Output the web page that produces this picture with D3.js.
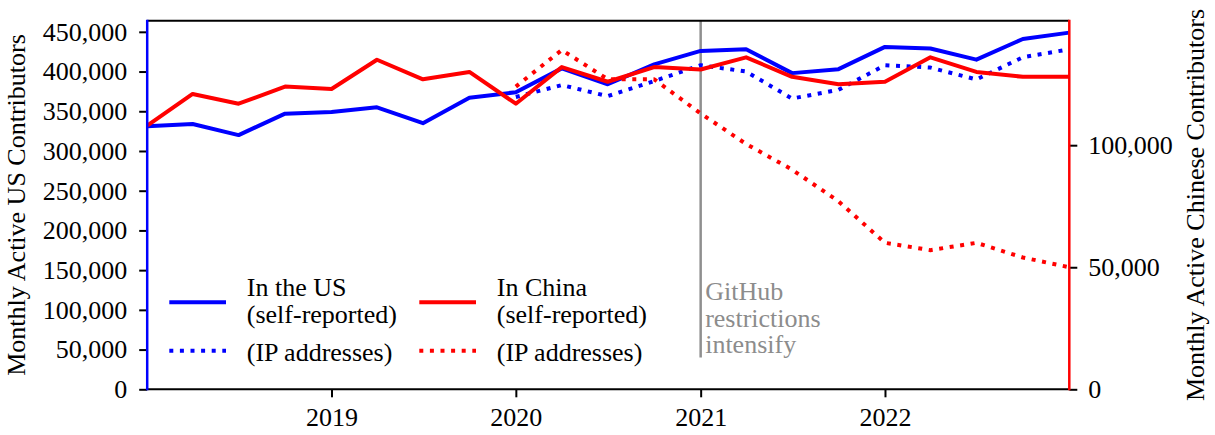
<!DOCTYPE html>
<html><head><meta charset="utf-8">
<script src="https://cdn.jsdelivr.net/npm/d3@7"></script>
<style>
body{margin:0;background:#fff}
svg{display:block}
svg text{font-family:'Liberation Serif','Times New Roman',Times,'Nimbus Roman','DejaVu Serif',serif !important;font-size:26px;}
</style>
</head><body>
<svg id="chart" width="1215" height="435"></svg>
<script>
// ---------- data ----------
const quarters = ["2018-01-01","2018-04-01","2018-07-01","2018-10-01",
                  "2019-01-01","2019-04-01","2019-07-01","2019-10-01",
                  "2020-01-01","2020-04-01","2020-07-01","2020-10-01",
                  "2021-01-01","2021-04-01","2021-07-01","2021-10-01",
                  "2022-01-01","2022-04-01","2022-07-01","2022-10-01",
                  "2023-01-01"];
const usSelfReported = [331000,334000,320000,347000,349000,355000,335000,367000,374000,
                        404000,384000,409000,426000,428000,398000,403000,431000,429000,
                        415000,441000,449000];
const usIP = [null,null,null,null,null,null,null,null,368000,
              383000,369000,388000,408000,400000,366000,377000,408000,405000,
              390000,418000,428000];
const chinaSelfReported = [108000,121000,117000,124000,123000,135000,127000,130000,117000,
                           132000,126000,132000,131000,136000,128000,125000,126000,136000,
                           130000,128000,128000];
const chinaIP = [null,null,null,null,null,null,null,null,124000,
                 139000,127000,127000,113000,100500,90000,77000,60000,57000,
                 60000,54000,50000];
const usTicks = [0,50000,100000,150000,200000,250000,300000,350000,400000,450000];
const chinaTicks = [0,50000,100000];
const yearTicks = ["2019","2020","2021","2022"];
const usDomain = [0,464000];
const chinaDomain = [0,151000];
const restrictionDate = "2021-01-01";
const restrictionFloor = 40000;
const annotationLines = ["GitHub","restrictions","intensify"];
const usLabel = "Monthly Active US Contributors";
const chinaLabel = "Monthly Active Chinese Contributors";
const legendCols = [
  {color:"#0000ff", self:["In the US","(self-reported)"], ip:"(IP addresses)"},
  {color:"#ff0000", self:["In China","(self-reported)"], ip:"(IP addresses)"}
];

// ---------- layout ----------
const FONT = "'Liberation Serif','Times New Roman',Times,serif";
const svg = d3.select("#chart");
const L = 147.2, R = 1069.3, T = 20.7, B = 389.3;
const parse = d3.utcParse("%Y-%m-%d");
const dates = quarters.map(parse);

const x = d3.scaleUtc().domain([dates[0], dates[dates.length-1]]).range([L,R]);
const yL = d3.scaleLinear().domain(usDomain).range([B,T]);
const yR = d3.scaleLinear().domain(chinaDomain).range([B,T]);

// restriction line (under data)
const rx = x(parse(restrictionDate));
svg.append("line").attr("x1",rx).attr("x2",rx)
  .attr("y1",T).attr("y2",yL(restrictionFloor))
  .attr("stroke","#8f8f8f").attr("stroke-width",2.5);
const ann = svg.append("text").attr("x",rx+4.5).attr("y",300)
  .attr("font-family",FONT).attr("font-size",26).attr("fill","#8c8c8c");
annotationLines.forEach((t,i)=>ann.append("tspan").attr("x",rx+4.5).attr("y",300+i*26.6).text(t));

function drawLine(vals, y, color, dotted){
  const line = d3.line().defined(d=>d[1]!=null).x(d=>x(d[0])).y(d=>y(d[1]));
  svg.append("path").datum(dates.map((d,i)=>[d,vals[i]]))
    .attr("d",line).attr("fill","none").attr("stroke",color)
    .attr("stroke-width",4)
    .attr("stroke-linejoin","round")
    .attr("stroke-dasharray",dotted?"4,6.6":null);
}
drawLine(usSelfReported, yL, "#0000ff", false);
drawLine(usIP, yL, "#0000ff", true);
drawLine(chinaSelfReported, yR, "#ff0000", false);
drawLine(chinaIP, yR, "#ff0000", true);

// axes
const axL = svg.append("g").attr("transform",`translate(${L},0)`)
  .call(d3.axisLeft(yL).tickValues(usTicks).tickFormat(d3.format(",")).tickSize(8).tickPadding(12));
const axR = svg.append("g").attr("transform",`translate(${R},0)`)
  .call(d3.axisRight(yR).tickValues(chinaTicks).tickFormat(d3.format(",")).tickSize(8).tickPadding(11));
const axB = svg.append("g").attr("transform",`translate(0,${B})`)
  .call(d3.axisBottom(x).tickValues(yearTicks.map(y=>parse(y+"-01-01"))).tickFormat(d3.utcFormat("%Y")).tickSize(8).tickPadding(10));
[axL,axR,axB].forEach(a=>{
  a.attr("font-family",FONT).attr("font-size",26);
  a.select(".domain").remove();
  a.selectAll(".tick line").attr("stroke","#000").attr("stroke-width",2);
  a.selectAll(".tick text").attr("fill","#000");
});

// spines
svg.append("line").attr("x1",L).attr("x2",R).attr("y1",T).attr("y2",T).attr("stroke","#000").attr("stroke-width",2);
svg.append("line").attr("x1",L).attr("x2",R).attr("y1",B).attr("y2",B).attr("stroke","#000").attr("stroke-width",2);
svg.append("line").attr("x1",L).attr("x2",L).attr("y1",T-1).attr("y2",B+1).attr("stroke","#0000ff").attr("stroke-width",2.5);
svg.append("line").attr("x1",R).attr("x2",R).attr("y1",T-1).attr("y2",B+1).attr("stroke","#ff0000").attr("stroke-width",2.5);

// axis labels
const midY = (T+B)/2;
svg.append("text").attr("transform",`translate(25,${midY}) rotate(-90)`)
  .attr("font-family",FONT).attr("font-size",26)
  .attr("text-anchor","middle").text(usLabel);
svg.append("text").attr("transform",`translate(1204,${midY}) rotate(-90)`)
  .attr("font-family",FONT).attr("font-size",26)
  .attr("text-anchor","middle").text(chinaLabel);

// legend
const colX = [169.3, 419.3];
const handleW = 56.7;
legendCols.forEach((c,i)=>{
  const hx = colX[i];
  svg.append("line").attr("x1",hx).attr("x2",hx+handleW).attr("y1",302.3).attr("y2",302.3)
    .attr("stroke",c.color).attr("stroke-width",4);
  svg.append("line").attr("x1",hx).attr("x2",hx+handleW).attr("y1",350.7).attr("y2",350.7)
    .attr("stroke",c.color).attr("stroke-width",4).attr("stroke-dasharray","4,6.6");
  const tx = hx + 77.5;
  const t = svg.append("text").attr("font-family",FONT).attr("font-size",26);
  c.self.forEach((s,j)=>t.append("tspan").attr("x",tx).attr("y",295.7+j*27.6).text(s));
  svg.append("text").attr("font-family",FONT).attr("font-size",26)
    .attr("x",tx).attr("y",361).text(c.ip);
});
</script>
</body></html>
